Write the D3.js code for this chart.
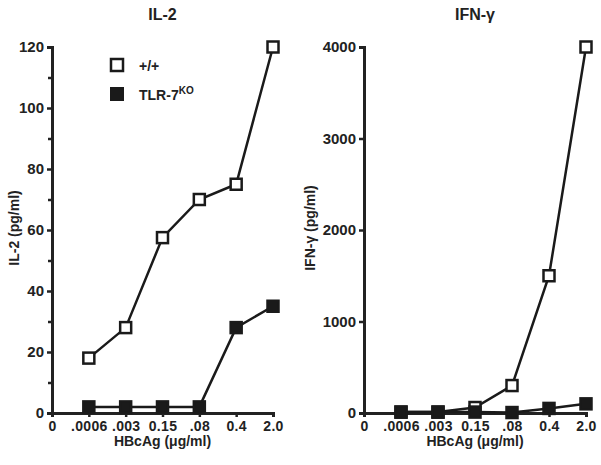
<!DOCTYPE html>
<html>
<head>
<meta charset="utf-8">
<style>
  body { margin: 0; background: #fff; }
  text { font-family: "Liberation Sans", Arial, sans-serif; font-weight: bold; fill: #222; }
</style>
</head>
<body>
<script src="https://d3js.org/d3.v7.min.js"></script>
<script>
const doses = ["0", ".0006", ".003", "0.15", ".08", "0.4", "2.0"]
const pointDoses = [".0006", ".003", "0.15", ".08", "0.4", "2.0"]

const il2WT = [18, 28, 57.5, 70, 75, 120]
const il2KO = [2, 2, 2, 2, 28, 35]
const ifnWT = [10, 10, 60, 300, 1500, 4000]
const ifnKO = [10, 10, 10, 5, 50, 100]

const il2Ticks = [0, 20, 40, 60, 80, 100, 120]
const il2Minor = [10, 30, 50, 70, 90, 110]
const ifnTicks = [0, 1000, 2000, 3000, 4000]

const w = 601, h = 465
const svg = d3.select("body").append("svg").attr("width", w).attr("height", h)

function panel(opts) {
    const g = svg.append("g")
    const x = d3.scalePoint().domain(doses).range([opts.x0, opts.x1])
    const y = d3.scaleLinear().domain([0, opts.max]).range([413, 47])
    const cx = (opts.x0 + opts.x1) / 2

    // y axis
    const yAxis = g.append("g").attr("transform", "translate(" + opts.x0 + ",0)")
        .call(d3.axisLeft(y).tickValues(opts.ticks).tickSize(5).tickPadding(3).tickFormat(d3.format("d")))
    yAxis.selectAll(".tick text").style("font-size", "15px")
    if (opts.minor) {
        g.append("g").attr("transform", "translate(" + opts.x0 + ",0)")
            .call(d3.axisLeft(y).tickValues(opts.minor).tickSize(4).tickFormat(""))
            .call(s => s.select(".domain").remove())
    }
    // x axis
    const xAxis = g.append("g").attr("transform", "translate(0,413)")
        .call(d3.axisBottom(x).tickSize(4).tickPadding(4))
    xAxis.selectAll(".tick text").style("font-size", "14px").attr("letter-spacing", "0.3px")

    g.selectAll(".domain").attr("stroke", "#222").attr("stroke-width", 3)
    g.selectAll(".tick line").attr("stroke", "#222").attr("stroke-width", 2.5)
    g.selectAll(".tick text").style("font-weight", "bold")
        .style("font-family", "Liberation Sans, Arial, sans-serif").attr("fill", "#222")

    // titles
    g.append("text").attr("x", cx).attr("y", 20)
        .attr("text-anchor", "middle").style("font-size", "16px").text(opts.title)
    g.append("text").attr("x", cx).attr("y", 446)
        .attr("text-anchor", "middle").style("font-size", "14px").text("HBcAg (μg/ml)")
    g.append("text").attr("transform", "translate(" + opts.ylx + ",228) rotate(-90)")
        .attr("text-anchor", "middle").style("font-size", "14px").text(opts.ylabel)

    const line = d3.line().x((d, i) => x(pointDoses[i])).y(d => y(d))
    const s = 11
    const series = [{ v: opts.ko, fill: "#1a1a1a" }, { v: opts.wt, fill: "#fff" }]
    if (opts.wtFirst) series.reverse()
    series.forEach(sr => {
        g.append("path").datum(sr.v).attr("d", line)
            .attr("fill", "none").attr("stroke", "#1a1a1a").attr("stroke-width", 2.5)
    })
    series.forEach(sr => {
        g.selectAll(null).data(sr.v).enter().append("rect")
            .attr("x", (d, i) => x(pointDoses[i]) - s / 2)
            .attr("y", d => y(d) - s / 2)
            .attr("width", s).attr("height", s)
            .attr("fill", sr.fill).attr("stroke", "#1a1a1a").attr("stroke-width", 2.5)
    })
}

panel({ x0: 52, x1: 273, max: 120, ticks: il2Ticks, minor: il2Minor, title: "IL-2",
        ylabel: "IL-2 (pg/ml)", ylx: 19, wt: il2WT, ko: il2KO, wtFirst: false })
panel({ x0: 364, x1: 586, max: 4000, ticks: ifnTicks, minor: null, title: "IFN-γ",
        ylabel: "IFN-γ (pg/ml)", ylx: 315, wt: ifnWT, ko: ifnKO, wtFirst: true })

// legend
const legend = svg.append("g")
legend.append("rect").attr("x", 111).attr("y", 59).attr("width", 12).attr("height", 12)
    .attr("fill", "#fff").attr("stroke", "#1a1a1a").attr("stroke-width", 2.5)
legend.append("text").attr("x", 139).attr("y", 71).style("font-size", "14px").text("+/+")
legend.append("rect").attr("x", 110).attr("y", 87).attr("width", 14).attr("height", 14)
    .attr("fill", "#1a1a1a")
const t = legend.append("text").attr("x", 139).attr("y", 100).style("font-size", "14px")
t.append("tspan").text("TLR-7")
t.append("tspan").attr("dy", -6).style("font-size", "10px").text("KO")
</script>
</body>
</html>
